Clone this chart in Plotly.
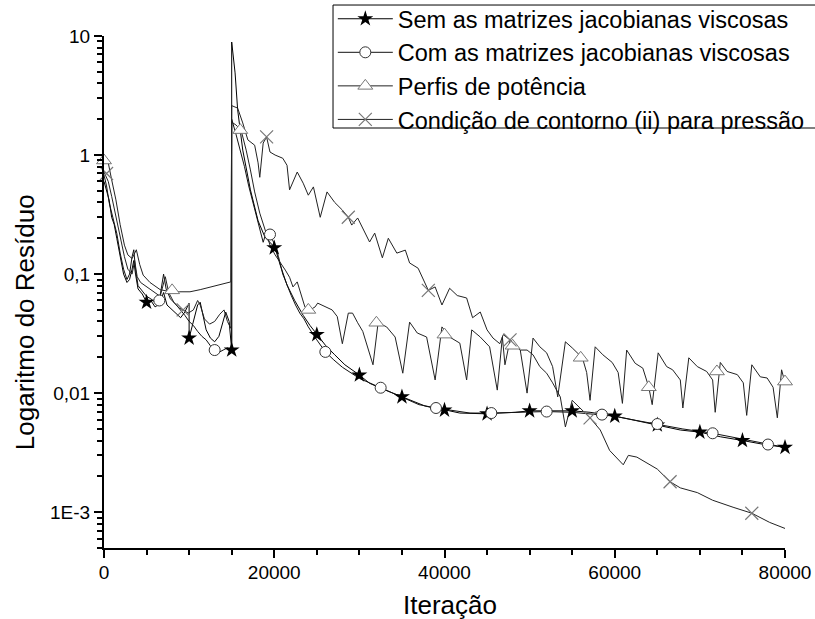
import math
import plotly.graph_objects as go

# ---------------- data ----------------
# Series 1: Sem as matrizes jacobianas viscosas (stars)
sem_x = [0, 300, 600, 900, 1200, 1500, 1900, 2300, 2700, 3000,
         3300, 3500, 3700, 4000, 4500, 5000, 5500, 6000, 6500, 7000,
         7400, 8000, 8500, 9000, 9500, 10000, 10000, 10500, 11000, 11300,
         11600, 12000, 12500, 13000, 13500, 14000, 14300, 14700, 14900, 15000,
         15000, 15400, 15700, 16300, 17200, 18100, 18900, 19500, 20100, 20700,
         21500, 22400, 23400, 24200, 25000, 26000, 27100, 28300, 30000, 31200,
         32500, 33900, 35000, 36500, 37700, 39100, 40200, 41800, 43600, 45000,
         46500, 48300, 50000, 52000, 53600, 55000, 57100, 58500, 60000, 62400,
         65000, 67700, 70000, 72400, 75000, 77600, 80000]
sem_y = [0.6, 0.5, 0.42, 0.3, 0.26, 0.2, 0.14, 0.1, 0.085, 0.09,
         0.11, 0.13, 0.1, 0.075, 0.068, 0.058, 0.06, 0.053, 0.056, 0.07,
         0.055, 0.05, 0.047, 0.043, 0.048, 0.057, 0.029, 0.04, 0.055, 0.058,
         0.045, 0.034, 0.029, 0.027, 0.03, 0.04, 0.048, 0.04, 0.03, 0.023,
         8.9, 4.9, 2.4, 1.1, 0.51, 0.28, 0.205, 0.186, 0.166, 0.119,
         0.081, 0.06, 0.045, 0.037, 0.031, 0.0253, 0.021, 0.0173, 0.0142, 0.0121,
         0.011, 0.010, 0.0093, 0.0084, 0.0078, 0.0074, 0.0072, 0.0068, 0.0067, 0.0067,
         0.0068, 0.0069, 0.0071, 0.0071, 0.0071, 0.0071, 0.0069, 0.0067, 0.0064, 0.0059,
         0.0054, 0.0049, 0.0047, 0.0043, 0.0040, 0.0037, 0.0035]
sem_mx = [5000, 10000, 15000, 20000, 25000, 30000, 35000, 40000,
          45000, 50000, 55000, 60000, 65000, 70000, 75000, 80000]
sem_my = [0.058, 0.029, 0.023, 0.166, 0.031, 0.0142, 0.0093, 0.0072,
          0.0067, 0.0071, 0.0071, 0.0064, 0.0054, 0.0047, 0.0040, 0.0035]

# Series 2: Com as matrizes jacobianas viscosas (circles)
com_x = [0, 300, 600, 900, 1200, 1500, 1900, 2300, 2700, 3000,
         3300, 3500, 3700, 4000, 4500, 5000, 5500, 6000, 6500, 7000,
         7300, 7800, 8500, 9000, 9500, 10000, 10500, 11000, 11500, 12000,
         12500, 13000, 13500, 14000, 14500, 15000, 15000, 15500, 16000, 16500,
         17000, 17500, 18000, 18400, 18700, 19100, 19500, 20000, 20500, 21000,
         21500, 22000, 22500, 23000, 23500, 24000, 25000, 26000, 27000, 28000,
         30000, 32500, 35000, 37000, 39000, 41000, 43000, 45500, 48000, 50000,
         52000, 55000, 58500, 60000, 62500, 65000, 68000, 71500, 75000, 78000,
         80000]
com_y = [0.68, 0.55, 0.4, 0.33, 0.28, 0.22, 0.15, 0.11, 0.09, 0.1,
         0.14, 0.16, 0.11, 0.08, 0.072, 0.065, 0.062, 0.058, 0.06, 0.1,
         0.075, 0.062, 0.055, 0.05, 0.045, 0.04, 0.037, 0.033, 0.03, 0.028,
         0.025, 0.023, 0.022, 0.023, 0.024, 0.023, 2.0, 1.5, 1.1, 0.8,
         0.55, 0.4, 0.29, 0.22, 0.185, 0.23, 0.215, 0.18, 0.14, 0.1,
         0.08, 0.066, 0.055, 0.047, 0.042, 0.036, 0.028, 0.0222, 0.019, 0.0165,
         0.0133, 0.0111, 0.0093, 0.008, 0.0075, 0.0071, 0.0068, 0.0068, 0.0069, 0.0070,
         0.0070, 0.0069, 0.0066, 0.0064, 0.0059, 0.0055, 0.0050, 0.0046, 0.0041, 0.0037,
         0.0035]
com_mx = [6500, 13000, 19500, 26000, 32500, 39000, 45500, 52000,
          58500, 65000, 71500, 78000]
com_my = [0.06, 0.023, 0.215, 0.0222, 0.0111, 0.0075, 0.0068, 0.0070,
          0.0066, 0.0055, 0.0046, 0.0037]

# Series 3: Perfis de potência (triangles)
per_x = [0, 500, 900, 1400, 1900, 2400, 2800, 3300, 3800, 4200,
         4600, 5400, 6600, 7800, 8900, 10100, 11300, 12500, 13600, 14900,
         15000, 15500, 16100, 16700, 17200, 17700, 18300, 18900, 19500, 20100,
         20700, 21300, 21800, 22200, 22700, 23300, 23600, 24200, 24800, 25100,
         26000, 26800, 27400, 28000, 28700, 29200, 29800, 30400, 31600, 32200,
         33200, 34200, 35100, 35900, 36800, 37900, 38900, 39700, 40600, 41800,
         42600, 43200, 44200, 45300, 46200, 46800, 47100, 47700, 48900, 49700,
         50400, 51200, 52000, 52700, 53300, 54200, 55000, 56200, 56700, 57100,
         57700, 58600, 59700, 60400, 60900, 61400, 62400, 63300, 64000, 64400,
         65100, 66100, 66800, 67700, 68000, 68700, 69700, 70800, 71500, 71800,
         72400, 73200, 74400, 75100, 75500, 76100, 77100, 77900, 78600, 79100,
         79600, 80000]
per_y = [0.91, 0.86, 0.62, 0.42, 0.26, 0.175, 0.145, 0.135, 0.16, 0.12,
         0.098, 0.085, 0.074, 0.071, 0.071, 0.071, 0.074, 0.078, 0.081, 0.086,
         1.89, 1.79, 1.62, 1.1, 0.75, 0.49, 0.325, 0.234, 0.175, 0.145,
         0.126, 0.108, 0.094, 0.078, 0.086, 0.064, 0.053, 0.05, 0.053, 0.057,
         0.053, 0.05, 0.044, 0.026, 0.047, 0.047, 0.039, 0.033, 0.0173, 0.039,
         0.036, 0.0296, 0.0147, 0.0395, 0.032, 0.0296, 0.0129, 0.036, 0.0296, 0.0263,
         0.0129, 0.034, 0.0296, 0.0245, 0.0106, 0.0296, 0.0173, 0.028, 0.023, 0.0100,
         0.029, 0.0245, 0.0218, 0.0167, 0.0093, 0.027, 0.024, 0.0198, 0.0149, 0.0087,
         0.0245, 0.021, 0.0181, 0.0149, 0.0082, 0.023, 0.0178, 0.0162, 0.0112, 0.0080,
         0.0218, 0.0167, 0.0157, 0.0129, 0.0075, 0.0198, 0.0167, 0.0152, 0.0129, 0.0069,
         0.0181, 0.0152, 0.0143, 0.0122, 0.0065, 0.0173, 0.0137, 0.0134, 0.0112, 0.0062,
         0.0157, 0.0122]
per_mx = [0, 8000, 16000, 24000, 32000, 40000, 48000, 56000, 64000, 72000, 80000]
per_my = [0.9, 0.073, 1.62, 0.05, 0.039, 0.031, 0.025, 0.0198, 0.0112, 0.0152, 0.0125]

# Series 4: Condição de contorno (ii) para pressão (crosses)
con_x = [0, 500, 900, 1400, 1900, 2400, 2800, 3300, 3600, 3900,
         4300, 4800, 5400, 6000, 6600, 7200, 7600, 8200, 8800, 9300,
         9900, 10500, 11000, 11300, 11800, 12400, 13000, 13600, 14100, 14500,
         14900, 15000, 15700, 16300, 16900, 17700, 18100, 18300, 18700, 19100,
         19500, 20100, 21000, 21500, 21800, 22700, 23400, 24000, 24600, 25400,
         26200, 27100, 28000, 28700, 29100, 29800, 30700, 31200, 31800, 32700,
         33400, 34400, 35400, 35900, 36900, 38100, 38900, 39700, 40600, 41500,
         42600, 43300, 44200, 45000, 45700, 46500, 46900, 47700, 48900, 49700,
         50400, 51200, 52000, 52700, 53600, 54200, 55000, 55900, 57100, 58300,
         59400, 61000, 61600, 62600, 63800, 65000, 66500, 67700, 69700, 71500,
         73900, 76100, 78200, 80000]
con_y = [0.72, 0.6, 0.45, 0.3, 0.2, 0.14, 0.11, 0.1, 0.13, 0.095,
         0.085, 0.08, 0.075, 0.07, 0.065, 0.095, 0.07, 0.058, 0.052, 0.05,
         0.047, 0.05, 0.06, 0.055, 0.042, 0.038, 0.04, 0.046, 0.05, 0.04,
         0.035, 2.6, 2.48, 1.86, 1.34, 1.21, 0.86, 0.65, 1.26, 1.42,
         1.06, 1.0, 0.94, 0.82, 0.51, 0.72, 0.58, 0.46, 0.54, 0.30,
         0.49, 0.40, 0.345, 0.30, 0.258, 0.296, 0.221, 0.186, 0.221, 0.137,
         0.20, 0.15, 0.159, 0.124, 0.112, 0.073, 0.078, 0.055, 0.076, 0.066,
         0.063, 0.043, 0.048, 0.034, 0.029, 0.026, 0.031, 0.028, 0.023, 0.023,
         0.021, 0.0167, 0.0147, 0.0122, 0.0093, 0.0052, 0.0087, 0.0075, 0.0062, 0.0049,
         0.0033, 0.0025, 0.003, 0.0029, 0.0026, 0.0023, 0.0018, 0.0016, 0.00146, 0.00126,
         0.0011, 0.00098, 0.00082, 0.00073]
con_mx = [300, 9300, 19100, 28700, 38100, 47700, 57100, 66500, 76100]
con_my = [0.7, 0.05, 1.42, 0.30, 0.073, 0.028, 0.0062, 0.0018, 0.00098]

names = ["Sem as matrizes jacobianas viscosas",
         "Com as matrizes jacobianas viscosas",
         "Perfis de potência",
         "Condição de contorno (ii) para pressão"]

x_tickvals = [0, 20000, 40000, 60000, 80000]
x_ticktext = ["0", "20000", "40000", "60000", "80000"]
y_tickvals = [0.001, 0.01, 0.1, 1, 10]
y_ticktext = ["1E-3", "0,01", "0,1", "1", "10"]

# ---------------- styles ----------------
FONT = "Arial, 'Liberation Sans', Helvetica, sans-serif"
styles = [
    dict(line="#000000", marker=dict(symbol="star", size=12, color="#000000",
                                     line=dict(width=0))),
    dict(line="#111111", marker=dict(symbol="circle", size=11, color="white",
                                     line=dict(width=1, color="#333333"))),
    dict(line="#222222", marker=dict(symbol="triangle-up", size=13, color="white",
                                     line=dict(width=1, color="#777777"))),
    dict(line="#222222", marker=dict(symbol="x-thin", size=13, color="#777777",
                                     line=dict(width=1.2, color="#777777"))),
]
series = [(sem_x, sem_y, sem_mx, sem_my),
          (com_x, com_y, com_mx, com_my),
          (per_x, per_y, per_mx, per_my),
          (con_x, con_y, con_mx, con_my)]

fig = go.Figure()
for (xs, ys, mx, my), st in zip(series, styles):
    fig.add_trace(go.Scatter(x=xs, y=ys, mode="lines",
                             line=dict(color=st["line"], width=1),
                             showlegend=False, hoverinfo="skip"))
for (xs, ys, mx, my), st in zip(series, styles):
    fig.add_trace(go.Scatter(x=mx, y=my, mode="markers", marker=st["marker"],
                             cliponaxis=False, showlegend=False, hoverinfo="skip"))
for name, st in zip(names, styles):
    fig.add_trace(go.Scatter(x=[None], y=[None], mode="lines+markers", name=name,
                             line=dict(color=st["line"], width=1),
                             marker=st["marker"]))

minor_y = [k * 10.0 ** e for e in range(-4, 1) for k in range(2, 10)
           if 5e-4 <= k * 10.0 ** e <= 10]

fig.update_layout(
    width=815, height=619,
    margin=dict(l=104, r=30, t=36, b=71, autoexpand=False),
    paper_bgcolor="white", plot_bgcolor="white",
    font=dict(family=FONT, color="black"),
    showlegend=True,
    legend=dict(x=0.336, y=1.0762, xanchor="left", yanchor="top",
                bgcolor="rgba(0,0,0,0)", borderwidth=0,
                font=dict(size=23.5, family=FONT, color="black"),
                itemwidth=55, tracegroupgap=0, traceorder="normal"),
    shapes=[dict(type="rect", xref="paper", yref="paper",
                 x0=0.3363, x1=1.1, y0=0.8203, y1=1.0605,
                 line=dict(color="black", width=1), fillcolor="white",
                 layer="above")],
    xaxis=dict(range=[0, 80000], tickvals=x_tickvals, ticktext=x_ticktext,
               showline=True, linecolor="black", linewidth=2,
               ticks="outside", ticklen=8, tickwidth=1.5, tickcolor="black",
               ticklabelstandoff=-2,
               minor=dict(ticks="outside", ticklen=5, tickwidth=1.5,
                          tickcolor="black", dtick=5000, tick0=0),
               showgrid=False, zeroline=False,
               tickfont=dict(size=19, family=FONT, color="black")),
    yaxis=dict(type="log", range=[math.log10(5e-4), 1],
               tickvals=y_tickvals, ticktext=y_ticktext,
               showline=True, linecolor="black", linewidth=2,
               ticks="outside", ticklen=8, tickwidth=1.5, tickcolor="black",
               minor=dict(ticks="outside", ticklen=5, tickwidth=1.5,
                          tickcolor="black", tickmode="array", tickvals=minor_y),
               showgrid=False, zeroline=False,
               tickfont=dict(size=19, family=FONT, color="black")),
    annotations=[
        dict(text="Iteração", xref="paper", yref="paper", x=0.508, y=-0.111,
             xanchor="center", yanchor="middle", showarrow=False,
             font=dict(size=26, family=FONT, color="black")),
        dict(text="Logaritmo do Resíduo", xref="paper", yref="paper",
             x=-0.116, y=0.441, xanchor="center", yanchor="middle",
             textangle=-90, showarrow=False,
             font=dict(size=26, family=FONT, color="black")),
    ],
)

fig.write_html("out.html", config={"displayModeBar": False})
